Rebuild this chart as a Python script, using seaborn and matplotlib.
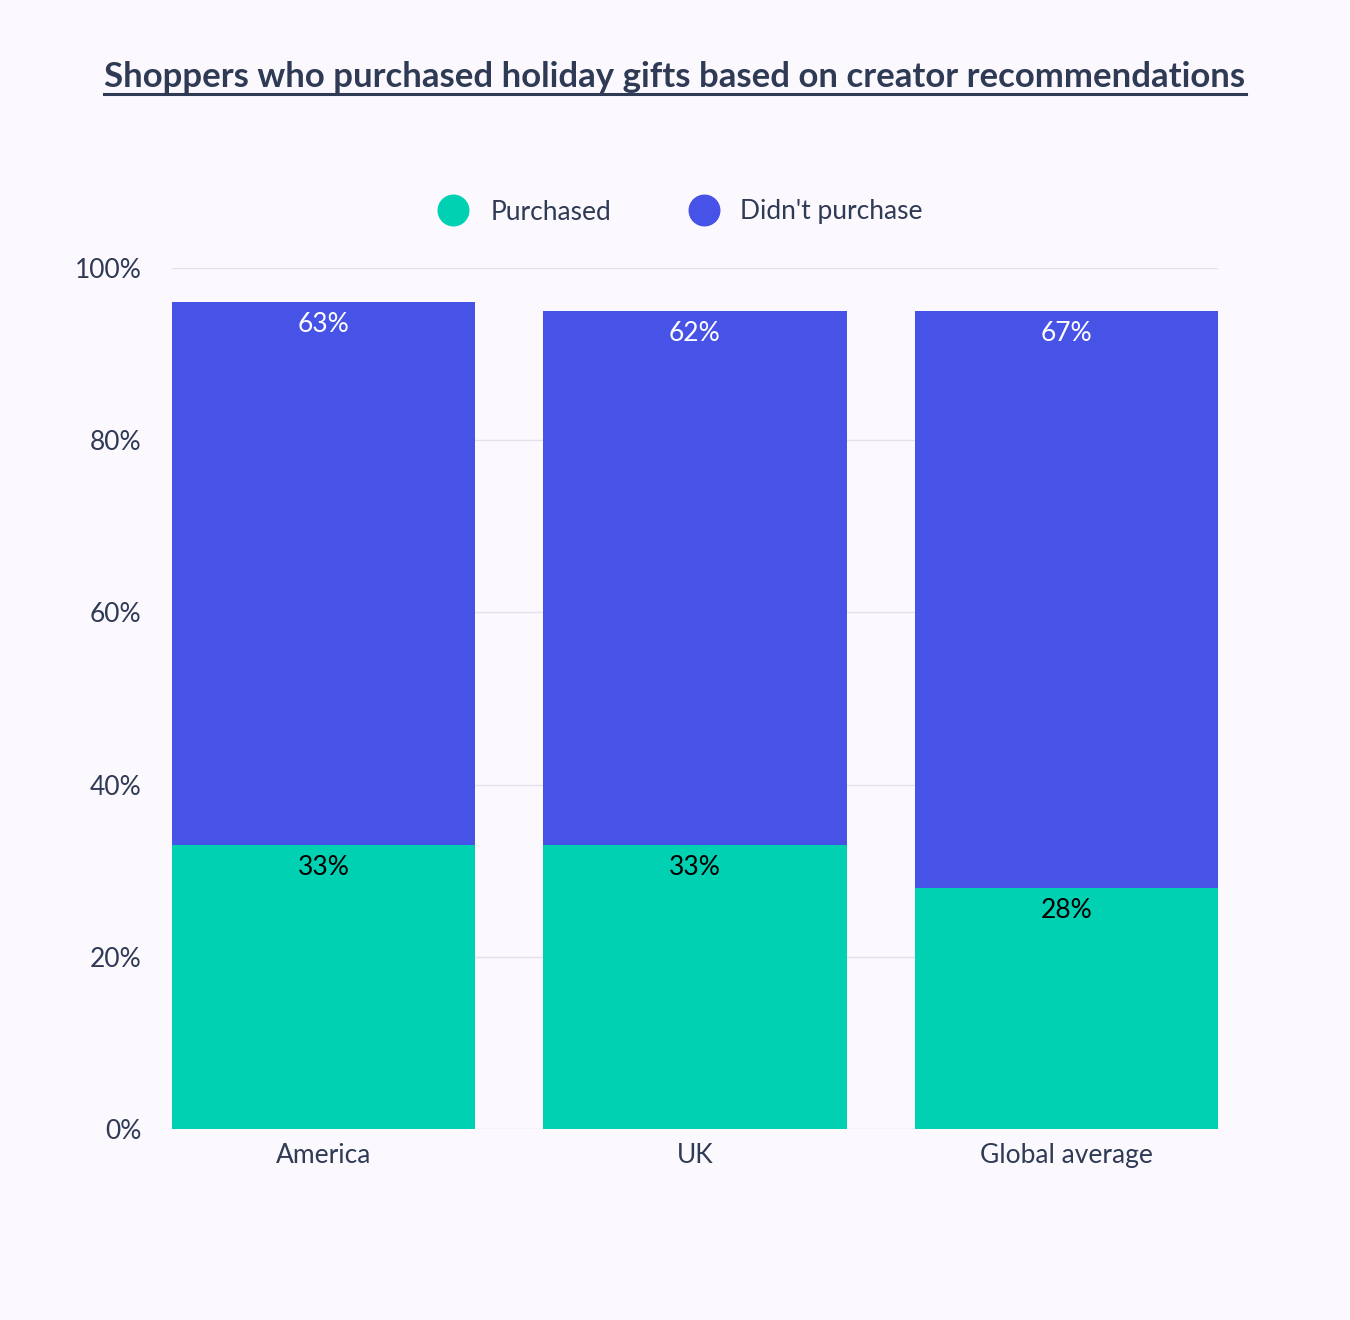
import matplotlib
matplotlib.use("Agg")
import matplotlib.pyplot as plt
import seaborn as sns
import pandas as pd
from matplotlib.lines import Line2D

categories = ["America", "UK", "Global average"]
purchased = [33, 33, 28]
didnt = [63, 62, 67]
yticks = [0, 20, 40, 60, 80, 100]

bg = "#fbf9fe"
teal = "#00d1b3"
blue = "#4753e7"
txt = "#2f3a55"

plt.rcParams["font.family"] = "Lato"
fig = plt.figure(figsize=(13.5, 13.2), dpi=100, facecolor=bg)
ax = fig.add_axes([172/1350, 1-1129/1320, (1218-172)/1350, (1129-268)/1320])
ax.set_facecolor(bg)

df = pd.DataFrame({"cat": categories, "p": purchased, "d": didnt})
df["total"] = df["p"] + df["d"]
sns.barplot(data=df, x="cat", y="total", color=blue, width=0.817, ax=ax, saturation=1, zorder=2)
sns.barplot(data=df, x="cat", y="p", color=teal, width=0.817, ax=ax, saturation=1, zorder=3)

for i, (p, d) in enumerate(zip(purchased, didnt)):
    ax.text(i, p + d - 2.6, f"{d}%", ha="center", va="center", color="white", fontsize=19, zorder=5)
    ax.text(i, p - 2.6, f"{p}%", ha="center", va="center", color="black", fontsize=19, zorder=5)

ax.set_xlim(-0.4085, 2.4085)
ax.set_ylim(0, 100)
ax.set_yticks(yticks)
ax.set_yticklabels([f"{t}%" for t in yticks])
ax.grid(axis="y", color="#e2e2ea", linewidth=1, zorder=0)
ax.set_axisbelow(True)
for s in ax.spines.values():
    s.set_visible(False)
ax.tick_params(length=0, labelsize=19, colors=txt, pad=10)
ax.tick_params(axis="y", pad=22)
ax.set_xlabel("")
ax.set_ylabel("")

handles = [Line2D([], [], marker="o", ls="", markersize=22, color=teal),
           Line2D([], [], marker="o", ls="", markersize=22, color=blue)]
fig.legend(handles, ["Purchased", "Didn't purchase"], loc="center", bbox_to_anchor=(0.5, 1-212/1320),
           ncol=2, frameon=False, fontsize=19, labelcolor=txt, handletextpad=0.4, columnspacing=2.5)

t = fig.text(0.5, 1-77/1320, "Shoppers who purchased holiday gifts based on creator recommendations",
             ha="center", va="center", fontsize=25, fontweight="bold", color=txt)
fig.canvas.draw()
bb = t.get_window_extent()
fig.add_artist(Line2D([bb.x0/1350, bb.x1/1350], [(bb.y0-1)/1320]*2, color=txt, lw=2.2))

fig.savefig("out.png", facecolor=bg)
